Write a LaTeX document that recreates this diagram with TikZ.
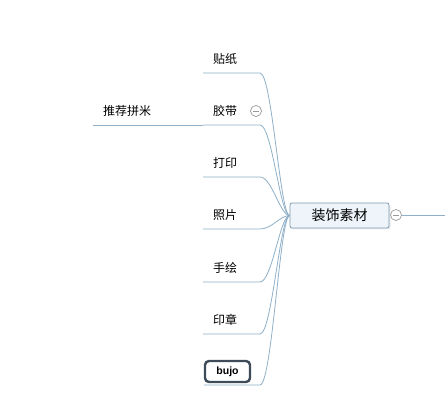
\documentclass[tikz,border=0pt]{standalone}
\usepackage{fontspec}
\newfontfamily\cjk{Noto Sans CJK SC}
\setmainfont{Liberation Sans}
\begin{document}
\begin{tikzpicture}[x=1pt,y=-1pt,
  conn/.style={draw=linkc, line width=0.8pt},
  lbl/.style={font=\cjk\fontsize{12}{12}\selectfont, inner sep=0pt, text=black},
  toggle/.style={circle, draw=gray!80, line width=0.7pt, minimum size=11pt, inner sep=0pt, fill=white},
]
\definecolor{linkc}{HTML}{8FB0C8}
\definecolor{bordc}{HTML}{7F9AB3}
\definecolor{fillc}{HTML}{EEF4FA}
\definecolor{bujoc}{HTML}{3E4B59}
\useasboundingbox[fill=white] (0,0) rectangle (445,406);

% central node
\fill[gray!15, rounded corners=2pt] (291,205) rectangle (390.5,229.5);
\node[draw=bordc, fill=fillc, line width=0.8pt, rounded corners=2pt, minimum width=99pt, minimum height=25pt,
      font=\cjk\fontsize{14}{14}\selectfont, inner sep=0pt] (center) at (339.5,215.5) {装饰素材};
\node[toggle] (ctog) at (396,215) {};
\draw[gray!80, line width=0.7pt] ([xshift=-3pt]ctog.center) -- ([xshift=3pt]ctog.center);
\coordinate (rightend) at (445,215);
\draw[conn] (ctog.east) -- (rightend);

% branches
\foreach \name/\txt/\ty in {tz/贴纸/59, jd/胶带/111, dy/打印/163, zp/照片/215, sh/手绘/268, yz/印章/320}{
  \node[lbl] (\name) at (225,\ty) {\txt};
  \coordinate (\name-l) at (203,\ty+14);
  \coordinate (\name-r) at (260,\ty+14);
  \draw[conn] (\name-l) -- (\name-r) .. controls +(12,0) and (280,215.5) .. (center.west);
}

% bujo
\node[draw=bujoc, line width=2.4pt, rounded corners=4pt, minimum width=45pt, minimum height=21pt,
      inner sep=0pt, font=\bfseries\fontsize{10.5}{12}\selectfont] (bujo) at (227.5,371.5) {bujo};
\coordinate (bj-l) at (204,385);
\coordinate (bj-r) at (260,385);
\draw[conn] (bj-l) -- (bj-r) .. controls +(12,0) and (280,215.5) .. (center.west);

% toggle of 胶带
\node[toggle] (jtog) at (256,111) {};
\draw[gray!80, line width=0.7pt] ([xshift=-3pt]jtog.center) -- ([xshift=3pt]jtog.center);

% child of 胶带
\node[lbl] (tj) at (127,111) {推荐拼米};
\coordinate (tj-l) at (93,125);
\draw[conn] (tj-l) -- (jd-l);
\end{tikzpicture}
\end{document}
